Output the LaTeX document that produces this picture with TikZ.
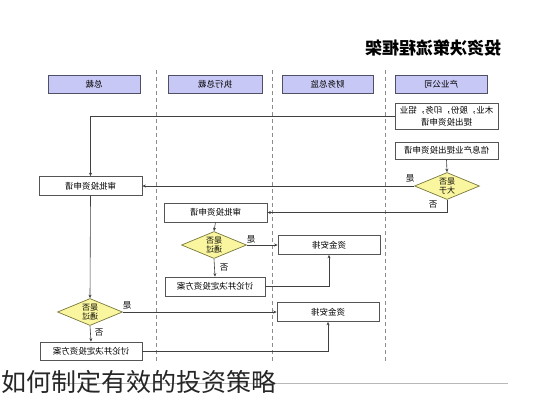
\documentclass[tikz,border=0pt]{standalone}
\usepackage{fontspec}
\usepackage{graphicx}
\setmainfont{Noto Sans CJK SC}
\newfontfamily\cjk{Noto Sans CJK SC}
\usetikzlibrary{shapes.geometric,arrows.meta}
\newcommand\mirtxt[1]{\scalebox{-1}[1]{#1}}
\definecolor{hdrfill}{RGB}{200,200,246}
\definecolor{hdrline}{RGB}{80,80,100}
\definecolor{diafill}{RGB}{250,246,160}
\definecolor{dialine}{RGB}{120,120,60}
\definecolor{boxline}{RGB}{85,85,85}
\definecolor{sepline}{RGB}{140,140,140}
\begin{document}
\begin{tikzpicture}[x=1pt,y=-1pt,
  every node/.style={inner sep=0pt,font=\cjk\fontsize{8.5}{11}\selectfont},
  hdr/.style={draw=hdrline,fill=hdrfill,line width=0.8pt,minimum width=92pt,minimum height=18pt},
  stepbox/.style={draw=boxline,fill=white,line width=0.7pt,minimum height=19pt,align=center},
  dia/.style={diamond,draw=dialine,fill=diafill,line width=0.7pt,shape aspect=2.5,minimum width=65pt,minimum height=27pt,align=center,font=\cjk\fontsize{8}{9.5}\selectfont},
  arr/.style={draw=black!75,line width=0.6pt,-{Stealth[length=3.5pt,width=3pt]}},
  sep/.style={draw=sepline,line width=0.6pt,dash pattern=on 4pt off 3pt},
  lbl/.style={font=\cjk\fontsize{8.5}{10}\selectfont}
]
\useasboundingbox (0,0) rectangle (533,400);
\fill[white] (0,0) rectangle (533,400);

% title
\node (title) at (433,48) {\cjk\bfseries\fontsize{17}{20}\selectfont\mirtxt{投资决策流程框架}};

% lane separators
\coordinate (s1a) at (156,70); \coordinate (s1b) at (156,362);
\coordinate (s2a) at (272,70); \coordinate (s2b) at (272,362);
\coordinate (s3a) at (385,70); \coordinate (s3b) at (385,362);
\draw[sep] (s1a) -- (s1b);
\draw[sep] (s2a) -- (s2b);
\draw[sep] (s3a) -- (s3b);

% headers
\node[hdr] (h1) at (94,84) {\mirtxt{总裁}};
\node[hdr,minimum width=94pt] (h2) at (215,84) {\mirtxt{执行总裁}};
\node[hdr,minimum width=91pt] (h3) at (327.5,84) {\mirtxt{财务总监}};
\node[hdr] (h4) at (441,84) {\mirtxt{产业公司}};

% boxes
\node[stepbox,minimum width=103pt,minimum height=26pt] (b1) at (446.5,116) {\mirtxt{木业，股份，印务，铝业}\\[1pt]\mirtxt{提出投资申请}};
\node[stepbox,minimum width=103pt,minimum height=17pt] (b2) at (446.5,150.5) {\mirtxt{信息产业提出投资申请}};
\node[dia] (d1) at (447,186) {\mirtxt{是否}\\\mirtxt{大于}};

\node[stepbox,minimum width=103pt] (a1) at (90.5,186) {\mirtxt{审批投资申请}};
\node[stepbox,minimum width=103pt] (a2) at (215.5,212.5) {\mirtxt{审批投资申请}};
\node[dia] (d2) at (214,245) {\mirtxt{是否}\\\mirtxt{通过}};
\node[stepbox,minimum width=102pt] (f1) at (329,245) {\mirtxt{资金安排}};
\node[stepbox,minimum width=100pt] (t1) at (215,286.5) {\mirtxt{讨论并决定投资方案}};

\node[dia] (d3) at (90,312) {\mirtxt{是否}\\\mirtxt{通过}};
\node[stepbox,minimum width=102pt] (f2) at (328,312) {\mirtxt{资金安排}};
\node[stepbox,minimum width=102pt,minimum height=18pt] (t2) at (91,351) {\mirtxt{讨论并决定投资方案}};

% connectors
\draw[arr] (b1.west) -| (a1.north);
\draw[arr] (b2.south) -- (d1.north);
\draw[arr] (d1.west) -- (a1.east);
\draw[arr] (d1.south) |- (a2.east);
\draw[arr] (a2.south) -- (d2.north);
\draw[arr] (d2.east) -- (f1.west);
\draw[arr] (d2.south) -- (t1.north);
\draw[arr] (t1.east) -| (f1.south);
\draw[arr] (a1.south) -- (d3.north);
\draw[arr] (d3.east) -- (f2.west);
\draw[arr] (d3.south) -- (t2.north);
\draw[arr] (t2.east) -| (f2.south);

% labels
\node[lbl] (l1) at (410,178) {\mirtxt{是}};
\node[lbl] (l2) at (433,205) {\mirtxt{否}};
\node[lbl] (l3) at (251,239) {\mirtxt{是}};
\node[lbl] (l4) at (224,268) {\mirtxt{否}};
\node[lbl] (l5) at (127,305) {\mirtxt{是}};
\node[lbl] (l6) at (99,333) {\mirtxt{否}};

% caption
\coordinate (c1) at (60,383); \coordinate (c2) at (508,383);
\draw[gray!55,line width=0.8pt] (c1) -- (c2);
\node[anchor=west,text=black!85] (cap) at (1,382) {\cjk\fontsize{25}{28}\selectfont 如何制定有效的投资策略};
\end{tikzpicture}
\end{document}
